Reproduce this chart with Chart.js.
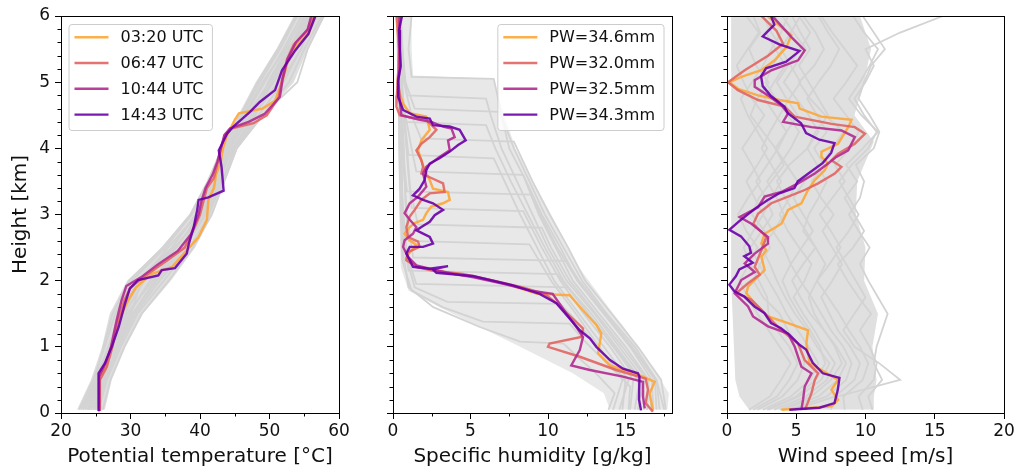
<!DOCTYPE html>
<html>
<head>
<meta charset="utf-8">
<script src="https://cdn.jsdelivr.net/npm/chart.js@4.4.1/dist/chart.umd.min.js"></script>
<style>
html, body { margin: 0; padding: 0; background: #fff; width: 1018px; height: 472px; overflow: hidden; }
canvas { position: absolute; top: 0; }
</style>
</head>
<body>
<canvas id="c1" width="359" height="472" style="left:0px"></canvas>
<canvas id="c2" width="360" height="472" style="left:332px"></canvas>
<canvas id="c3" width="351" height="472" style="left:666px"></canvas>
<script>
Chart.defaults.font.family = "'DejaVu Sans', sans-serif";
Chart.defaults.color = '#111';

const profileColors = ['#fca636', '#e16462', '#b12a90', '#6a00a8'];
const launchTimes = ['03:20 UTC', '06:47 UTC', '10:44 UTC', '14:43 UTC'];
const pwLabels = ['PW=34.6mm', 'PW=32.0mm', 'PW=32.5mm', 'PW=34.3mm'];

// ---------- potential temperature [°C] ----------
const thetaGridH = [0.05, 0.5, 1.0, 1.5, 2.0, 2.5, 3.0, 3.5, 4.0, 4.5, 5.0, 5.5, 6.0];
const thetaBandLeft = [22.3, 24.3, 25.9, 27.0, 29.5, 34.5, 38.5, 41.0, 43.0, 45.5, 48.0, 51.0, 53.5];
const thetaBandRight = [26.3, 27.3, 29.3, 31.8, 35.8, 39.3, 41.8, 43.6, 45.4, 49.3, 53.5, 55.5, 58.0];
const thetaGray = [
  [22.6, 24.6, 26.3, 27.8, 30.2, 35.0, 38.8, 41.3, 43.4, 46.0, 48.6, 51.5, 54.0],
  [23.2, 25.0, 26.8, 28.5, 31.0, 36.0, 39.4, 41.8, 43.6, 46.5, 49.3, 52.0, 54.6],
  [23.8, 25.4, 27.2, 29.2, 32.0, 36.6, 39.9, 42.0, 44.0, 46.8, 50.0, 52.8, 55.2],
  [24.3, 25.8, 27.6, 29.8, 32.8, 37.2, 40.3, 42.4, 44.3, 47.3, 50.6, 53.3, 55.8],
  [24.8, 26.2, 28.1, 30.4, 33.8, 37.9, 40.8, 42.8, 44.6, 47.8, 51.2, 53.8, 56.3],
  [25.4, 26.6, 28.6, 31.0, 34.8, 38.5, 41.3, 43.2, 45.0, 48.4, 52.0, 54.5, 56.9],
  [26.0, 27.1, 29.1, 31.6, 35.5, 39.0, 41.7, 43.5, 45.3, 49.0, 52.8, 55.0, 57.5],
  [22.9, 24.9, 26.1, 27.4, 29.8, 34.6, 38.6, 41.1, 43.2, 45.8, 48.3, 51.2, 53.8],
  [24.0, 25.5, 27.9, 30.1, 31.5, 36.3, 40.6, 42.6, 43.8, 47.0, 51.5, 54.6, 55.6],
  [25.0, 26.4, 28.3, 30.7, 34.2, 38.2, 40.0, 42.2, 44.8, 48.0, 49.8, 52.5, 56.6],
  [23.5, 25.2, 27.0, 28.9, 31.5, 35.4, 39.7, 42.5, 44.4, 46.3, 49.0, 52.3, 55.0],
  [24.6, 26.0, 27.4, 29.5, 33.2, 37.6, 40.5, 43.0, 44.1, 47.5, 50.3, 53.0, 55.5],
  [24.0, 25.6, 27.5, 30.3, 33.5, 37.5, 40.9, 43.3, 44.9, 49.0, 54.0, 55.5, 57.8]
];
const thetaH0320 = [0.03, 0.55, 0.7, 1.0, 1.2, 1.4, 1.71, 1.9, 2.1, 2.21, 2.4, 2.66, 2.92, 3.22, 3.4, 3.6, 3.8, 4.0, 4.2, 4.43, 4.53, 4.6, 4.72, 5.0, 5.3, 5.54, 5.72, 6.0];
const theta0320 = [25.6, 25.5, 26.4, 27.2, 27.8, 28.3, 29.7, 30.8, 33.0, 36.0, 37.6, 39.8, 41.0, 41.2, 42.0, 42.3, 43.0, 43.3, 43.9, 45.0, 45.6, 49.0, 50.8, 51.8, 52.6, 53.7, 55.6, 56.5];
const thetaH0647 = [0.03, 0.5, 0.7, 1.0, 1.4, 1.7, 1.9, 2.1, 2.3, 2.5, 2.8, 3.0, 3.2, 3.4, 3.55, 3.8, 4.0, 4.2, 4.3, 4.38, 4.5, 4.76, 5.04, 5.34, 5.57, 5.77, 6.0];
const theta0647 = [25.6, 25.6, 26.6, 27.4, 28.2, 29.1, 30.0, 32.5, 35.2, 37.8, 39.2, 40.0, 40.5, 41.0, 42.0, 42.6, 43.0, 43.6, 44.5, 47.7, 49.6, 51.3, 51.8, 52.5, 53.5, 55.4, 56.3];
const thetaH1044 = [0.03, 0.55, 0.75, 1.0, 1.4, 1.7, 1.92, 2.05, 2.25, 2.45, 2.7, 3.0, 3.2, 3.4, 3.6, 3.8, 4.0, 4.2, 4.3, 4.4, 4.52, 4.78, 5.05, 5.35, 5.6, 5.8, 6.0];
const theta1044 = [25.5, 25.5, 26.4, 27.2, 28.0, 28.7, 29.4, 31.5, 34.0, 36.8, 38.7, 39.8, 40.2, 40.8, 41.8, 42.5, 43.0, 43.5, 44.3, 47.0, 49.3, 51.5, 51.9, 52.6, 53.8, 55.5, 56.0];
const thetaH1443 = [0.03, 0.6, 0.75, 1.0, 1.3, 1.65, 1.88, 2.01, 2.08, 2.16, 2.19, 2.41, 2.56, 2.81, 3.07, 3.22, 3.26, 3.36, 3.72, 3.97, 4.22, 4.33, 4.55, 4.7, 4.88, 5.18, 5.48, 5.73, 6.0];
const theta1443 = [25.4, 25.4, 26.3, 27.3, 28.3, 29.2, 29.9, 31.1, 34.0, 34.5, 36.4, 38.1, 38.4, 39.1, 39.6, 39.8, 41.2, 43.4, 43.1, 42.7, 43.9, 44.8, 47.2, 48.6, 50.8, 51.8, 53.7, 55.6, 56.6];

// ---------- specific humidity [g/kg] ----------
const qBandH = [0.05, 0.3, 0.6, 1.0, 1.3, 1.6, 1.85, 2.2, 3.0, 4.0, 4.84, 5.05, 5.1, 5.5, 6.0];
const qBandLeft = [14.0, 13.6, 11.6, 8.2, 5.6, 3.0, 1.0, 0.5, 0.4, 0.35, 0.3, 0.3, 0.3, 0.25, 0.2];
const qBandRight = [17.7, 17.8, 17.0, 15.8, 14.9, 13.9, 13.1, 12.0, 10.2, 7.9, 6.7, 6.5, 1.3, 1.2, 1.2];
const qGray = [
  [[0.05, 0.5, 1.0, 1.5, 2.0, 2.5, 3.0, 3.5, 4.0, 4.5, 4.84, 5.05, 5.08, 5.5, 6.0], [16.8, 16.7, 15.3, 13.6, 11.9, 10.8, 9.6, 8.6, 7.5, 7.0, 6.7, 6.5, 1.2, 1.0, 1.2]],
  [[0.05, 0.5, 1.0, 1.5, 2.0, 2.5, 3.0, 3.5, 4.0, 4.5, 4.75, 4.8, 5.2, 5.6, 6.0], [15.8, 16.2, 14.6, 13.0, 11.2, 10.0, 9.0, 8.0, 7.0, 6.3, 6.0, 0.9, 0.7, 0.6, 0.5]],
  [[0.05, 0.5, 1.0, 1.5, 2.0, 2.5, 3.0, 3.5, 4.0, 4.55, 4.6, 5.0, 5.5, 6.0], [17.2, 17.0, 15.6, 13.8, 12.2, 11.0, 9.8, 8.8, 7.8, 6.9, 1.4, 0.8, 0.6, 0.5]],
  [[0.05, 0.5, 1.0, 1.5, 2.0, 2.5, 3.0, 3.5, 4.0, 4.35, 4.4, 4.8, 5.3, 6.0], [16.0, 15.8, 14.2, 12.6, 11.0, 9.8, 8.7, 7.6, 6.6, 6.0, 0.7, 0.5, 0.4, 0.3]],
  [[0.05, 0.5, 1.0, 1.5, 2.0, 2.5, 3.0, 3.5, 4.1, 4.15, 4.5, 5.0, 5.5, 6.0], [17.6, 17.3, 15.8, 14.1, 12.4, 11.3, 10.1, 9.0, 7.8, 1.8, 1.2, 0.7, 0.4, 0.3]],
  [[0.05, 0.5, 1.0, 1.5, 2.0, 2.5, 3.0, 3.5, 3.85, 3.9, 4.3, 4.9, 5.5, 6.0], [14.6, 15.2, 13.6, 12.0, 10.4, 9.3, 8.2, 7.2, 6.5, 1.0, 0.8, 0.6, 0.5, 0.4]],
  [[0.05, 0.5, 1.0, 1.5, 2.0, 2.5, 3.0, 3.6, 3.65, 4.0, 4.5, 5.0, 6.0], [16.4, 16.5, 15.0, 13.3, 11.6, 10.5, 9.4, 8.4, 1.5, 1.2, 0.8, 0.5, 0.4]],
  [[0.05, 0.5, 1.0, 1.5, 2.0, 2.5, 3.0, 3.3, 3.35, 3.8, 4.4, 5.0, 6.0], [17.0, 16.9, 15.4, 13.6, 11.9, 10.6, 9.5, 8.9, 0.9, 0.7, 0.6, 0.4, 0.3]],
  [[0.05, 0.5, 1.0, 1.5, 2.0, 2.5, 3.05, 3.1, 3.6, 4.2, 5.0, 6.0], [15.3, 15.5, 14.0, 12.3, 10.8, 9.6, 8.4, 1.2, 1.0, 0.8, 0.5, 0.4]],
  [[0.05, 0.5, 1.0, 1.5, 2.0, 2.5, 2.8, 2.85, 3.4, 4.0, 4.6, 5.3, 6.0], [16.7, 16.4, 14.8, 13.1, 11.4, 10.2, 9.6, 1.6, 1.1, 0.9, 0.7, 0.5, 0.4]],
  [[0.05, 0.5, 1.0, 1.5, 2.0, 2.55, 2.6, 3.2, 4.0, 5.0, 6.0], [14.2, 14.8, 13.3, 11.8, 10.2, 8.8, 1.0, 0.8, 0.7, 0.5, 0.4]],
  [[0.05, 0.5, 1.0, 1.5, 2.0, 2.3, 2.35, 3.0, 4.0, 5.0, 6.0], [17.5, 17.0, 15.4, 13.7, 12.0, 11.2, 1.3, 0.9, 0.6, 0.5, 0.3]],
  [[0.05, 0.5, 1.0, 1.5, 2.1, 2.15, 2.6, 3.5, 4.5, 5.5, 6.0], [15.6, 15.9, 14.3, 12.6, 10.6, 1.0, 0.7, 0.5, 0.4, 0.3, 0.3]],
  [[0.05, 0.5, 1.0, 1.5, 1.9, 1.95, 2.4, 3.2, 4.2, 5.2, 6.0], [16.2, 16.0, 14.4, 12.8, 11.3, 1.5, 0.9, 0.6, 0.5, 0.4, 0.3]],
  [[0.05, 0.5, 1.0, 1.45, 1.65, 1.68, 1.9, 2.4, 3.3, 4.4, 5.4, 6.0], [14.8, 15.0, 13.2, 11.6, 10.8, 3.5, 1.4, 0.8, 0.6, 0.5, 0.4, 0.3]],
  [[0.05, 0.4, 0.8, 1.1, 1.35, 1.38, 1.6, 1.85, 2.3, 3.0, 4.0, 5.0, 6.0], [15.2, 15.3, 13.6, 12.3, 11.4, 5.8, 3.2, 1.2, 0.6, 0.5, 0.4, 0.4, 0.3]],
  [[0.05, 0.3, 0.6, 0.85, 1.05, 1.08, 1.3, 1.6, 1.9, 2.5, 3.5, 4.5, 6.0], [13.9, 14.3, 13.1, 11.9, 11.0, 8.2, 5.6, 2.6, 1.0, 0.6, 0.5, 0.4, 0.4]]
];
const qH0320 = [6.0, 5.8, 5.5, 5.2, 5.0, 4.83, 4.68, 4.53, 4.48, 4.28, 4.12, 3.97, 3.82, 3.67, 3.52, 3.39, 3.34, 3.22, 3.17, 3.12, 3.02, 2.92, 2.87, 2.81, 2.71, 2.61, 2.54, 2.43, 2.34, 2.21, 2.16, 2.1, 2.05, 1.95, 1.8, 1.78, 1.55, 1.33, 1.2, 0.9, 0.72, 0.55, 0.47, 0.3, 0.04];
const q0320 = [0.2, 0.3, 0.35, 0.35, 0.3, 0.43, 0.65, 1.08, 2.15, 2.37, 1.83, 1.62, 1.83, 2.04, 2.37, 2.58, 3.55, 3.66, 3.23, 2.47, 2.15, 1.94, 1.4, 1.08, 0.75, 1.08, 1.51, 1.08, 0.86, 1.51, 2.58, 4.0, 5.5, 7.3, 9.3, 11.4, 12.26, 13.12, 13.44, 13.23, 14.0, 16.13, 16.88, 16.56, 16.77];
const qH0647 = [6.0, 5.8, 5.5, 5.2, 5.0, 4.8, 4.63, 4.5, 4.45, 4.43, 4.28, 4.17, 4.07, 3.97, 3.82, 3.72, 3.62, 3.54, 3.47, 3.34, 3.32, 3.22, 3.07, 2.97, 2.81, 2.66, 2.59, 2.51, 2.43, 2.31, 2.21, 2.15, 2.1, 2.0, 1.9, 1.8, 1.66, 1.28, 1.15, 1.05, 1.0, 0.85, 0.65, 0.52, 0.35, 0.15, 0.02];
const q0647 = [0.26, 0.3, 0.4, 0.35, 0.3, 0.25, 0.22, 0.43, 1.5, 2.15, 2.8, 2.37, 1.83, 1.51, 1.83, 1.94, 1.83, 2.58, 3.23, 3.33, 2.37, 1.83, 1.4, 1.08, 0.86, 0.97, 1.62, 1.72, 0.97, 0.86, 1.51, 2.58, 4.5, 6.5, 8.3, 9.8, 10.54, 12.26, 12.15, 10.1, 10.0, 12.05, 14.4, 16.3, 16.45, 16.3, 16.77];
const qH1044 = [6.0, 5.8, 5.5, 5.2, 5.0, 4.73, 4.5, 4.43, 4.4, 4.33, 4.3, 4.17, 4.12, 3.97, 3.87, 3.72, 3.62, 3.42, 3.27, 3.17, 3.02, 2.92, 2.81, 2.71, 2.61, 2.51, 2.36, 2.23, 2.18, 2.12, 2.05, 1.95, 1.85, 1.8, 1.5, 1.3, 1.15, 0.95, 0.72, 0.65, 0.55, 0.47, 0.25, 0.07];
const q1044 = [0.43, 0.4, 0.45, 0.4, 0.35, 0.43, 0.54, 1.72, 2.47, 3.23, 3.77, 3.98, 3.55, 3.66, 3.0, 2.15, 1.94, 2.15, 1.62, 1.08, 0.75, 1.08, 1.51, 1.29, 0.75, 0.65, 0.97, 1.51, 2.37, 3.5, 5.2, 7.2, 8.9, 10.3, 11.2, 11.83, 12.26, 12.05, 11.5, 12.7, 14.84, 16.13, 16.13, 16.24];
const qH1443 = [6.0, 5.79, 5.5, 5.24, 5.03, 4.78, 4.58, 4.48, 4.45, 4.35, 4.33, 4.28, 4.12, 4.05, 3.95, 3.85, 3.77, 3.67, 3.52, 3.39, 3.29, 3.22, 3.17, 3.07, 2.99, 2.89, 2.81, 2.76, 2.71, 2.66, 2.56, 2.51, 2.51, 2.41, 2.31, 2.21, 2.18, 2.22, 2.17, 2.12, 2.07, 1.93, 1.8, 1.66, 1.4, 1.25, 1.13, 1.0, 0.8, 0.67, 0.6, 0.55, 0.2, 0.04];
const q1443 = [0.58, 0.39, 0.45, 0.5, 0.33, 0.33, 0.65, 1.51, 2.37, 2.58, 3.66, 4.3, 4.69, 4.2, 3.66, 3.0, 2.37, 2.15, 2.04, 1.72, 1.29, 1.94, 2.58, 3.23, 2.69, 2.37, 1.83, 1.51, 1.94, 2.37, 2.58, 1.94, 1.08, 0.86, 1.08, 1.29, 2.37, 3.55, 2.58, 2.8, 5.16, 7.74, 9.46, 10.54, 11.5, 12.05, 12.7, 13.12, 14.0, 14.84, 15.8, 15.9, 15.87, 16.0];

// ---------- wind speed [m/s] ----------
const windGridH = [0.05, 0.25, 0.5, 0.75, 1.0, 1.25, 1.5, 1.75, 2.0, 2.25, 2.5, 2.75, 3.0, 3.25, 3.5, 3.75, 4.0, 4.25, 4.5, 4.75, 5.0, 5.25, 5.5, 5.75, 6.0];
const windBandH = [0.05, 0.25, 0.5, 1.0, 1.5, 2.0, 2.5, 3.0, 3.5, 4.1, 4.5, 5.0, 5.5, 6.0];
const windBandLeft = [1.6, 0.9, 0.6, 0.5, 0.4, 0.3, 0.3, 0.3, 0.3, 0.3, 0.3, 0.3, 0.3, 0.3];
const windBandRight = [10.6, 10.6, 10.8, 10.5, 10.9, 9.9, 10.0, 9.3, 9.4, 10.6, 9.2, 9.9, 10.4, 9.6];
const windGray = [
  [3.0, 5.2, 6.8, 7.4, 6.5, 5.8, 4.9, 4.2, 3.6, 3.1, 2.5, 3.4, 4.1, 3.6, 2.9, 3.8, 4.6, 5.2, 4.4, 3.5, 2.8, 3.3, 4.0, 3.2, 2.6],
  [2.2, 4.0, 5.1, 5.6, 5.2, 4.4, 3.8, 2.6, 1.9, 2.4, 3.1, 2.7, 1.8, 2.3, 3.2, 4.1, 3.5, 2.6, 1.7, 2.2, 3.0, 2.1, 1.6, 2.4, 1.9],
  [4.5, 7.2, 8.6, 9.0, 8.4, 7.5, 6.8, 6.1, 5.3, 4.6, 5.4, 6.2, 5.5, 4.8, 5.6, 6.8, 7.6, 8.4, 7.1, 6.0, 5.2, 6.3, 7.0, 6.4, 5.5],
  [8.5, 8.4, 9.8, 10.2, 9.6, 8.8, 8.1, 7.3, 6.5, 7.4, 8.2, 7.5, 6.7, 7.6, 8.5, 7.8, 8.9, 9.5, 8.6, 7.7, 8.6, 9.4, 8.5, 7.6, 6.8],
  [1.6, 3.1, 3.9, 4.6, 3.8, 3.0, 2.2, 1.5, 0.9, 1.6, 2.2, 1.4, 0.8, 1.5, 2.4, 1.8, 1.1, 1.9, 2.7, 1.8, 1.2, 0.7, 1.5, 2.3, 1.4],
  [3.8, 6.1, 7.5, 8.3, 7.8, 7.0, 6.0, 5.3, 4.7, 5.5, 6.4, 5.7, 4.9, 4.2, 3.6, 4.5, 5.8, 6.6, 5.9, 5.0, 4.1, 4.9, 5.7, 4.8, 4.0],
  [9.8, 9.5, 10.6, 10.8, 10.3, 9.6, 10.4, 9.5, 8.7, 8.0, 9.1, 9.9, 9.2, 8.5, 9.4, 8.6, 9.8, 10.9, 9.7, 8.8, 9.6, 10.3, 10.9, 9.9, 9.1],
  [2.6, 4.6, 6.0, 6.6, 5.9, 5.1, 4.3, 3.7, 3.0, 2.3, 1.7, 2.5, 3.3, 2.8, 2.1, 2.9, 3.7, 4.3, 3.5, 2.7, 3.4, 4.2, 3.5, 2.8, 3.6],
  [4.9, 7.8, 9.2, 9.6, 8.9, 8.0, 7.4, 6.8, 7.6, 8.3, 7.6, 6.9, 7.7, 6.8, 6.1, 7.0, 6.3, 7.2, 6.5, 5.8, 6.6, 7.5, 8.1, 7.3, 6.6],
  [3.4, 5.7, 7.2, 7.8, 7.0, 6.3, 5.5, 4.8, 5.6, 6.1, 5.2, 4.4, 3.8, 4.5, 5.1, 4.3, 3.5, 4.3, 5.1, 4.3, 3.6, 4.4, 5.3, 6.0, 5.2],
  [1.9, 3.6, 4.5, 5.1, 4.5, 3.6, 3.0, 2.9, 2.3, 1.7, 1.2, 1.9, 2.6, 2.0, 1.4, 2.2, 2.9, 2.2, 1.5, 1.0, 1.8, 2.6, 3.2, 3.9, 4.4],
  [7.5, 8.0, 12.5, 11.0, 9.2, 8.4, 9.2, 10.0, 9.3, 8.6, 7.9, 8.8, 9.5, 8.8, 8.1, 9.0, 10.2, 10.8, 9.9, 9.2, 10.0, 10.6, 10.0, 12.5, 15.6],
  [4.0, 6.6, 8.0, 8.6, 7.9, 7.0, 6.3, 5.9, 6.5, 7.1, 6.4, 5.5, 5.9, 6.6, 7.2, 6.5, 5.8, 6.4, 7.3, 6.6, 5.9, 5.2, 6.0, 5.3, 4.7],
  [2.9, 5.0, 6.4, 7.1, 6.7, 6.0, 5.2, 4.5, 4.0, 4.6, 4.1, 3.3, 2.6, 3.2, 3.9, 3.2, 2.5, 3.1, 3.8, 4.5, 5.3, 4.6, 3.9, 4.6, 5.3],
  [10.5, 10.2, 11.2, 10.6, 10.8, 11.2, 11.6, 10.9, 10.2, 9.6, 10.3, 9.5, 8.8, 9.6, 9.9, 9.3, 10.6, 11.0, 10.3, 9.5, 9.9, 10.4, 11.4, 10.6, 9.8]
];
const windH0320 = [5.99, 5.71, 5.53, 5.33, 5.18, 5.08, 5.0, 4.9, 4.8, 4.73, 4.68, 4.6, 4.48, 4.43, 4.32, 4.07, 3.95, 3.87, 3.77, 3.67, 3.52, 3.37, 3.17, 3.07, 2.86, 2.71, 2.56, 2.46, 2.36, 2.16, 2.06, 1.91, 1.81, 1.66, 1.46, 1.36, 1.25, 1.05, 0.75, 0.65, 0.5, 0.35, 0.2, 0.1, 0.05];
const wind0320 = [2.96, 4.65, 4.29, 3.44, 2.48, 1.03, 0.19, 0.79, 2.24, 3.8, 5.13, 5.25, 6.82, 8.99, 8.75, 8.02, 6.82, 6.82, 7.3, 7.06, 6.34, 5.85, 5.37, 4.41, 3.93, 2.72, 2.48, 2.84, 2.48, 2.72, 2.24, 1.52, 1.4, 2.0, 2.96, 4.41, 5.85, 5.73, 5.97, 6.82, 8.02, 7.54, 8.02, 7.54, 3.93];
const windH0647 = [6.0, 5.78, 5.58, 5.4, 5.18, 5.0, 4.88, 4.73, 4.63, 4.48, 4.37, 4.32, 4.22, 4.07, 3.92, 3.82, 3.72, 3.62, 3.47, 3.37, 3.27, 3.17, 3.01, 2.86, 2.66, 2.46, 2.21, 2.09, 1.96, 1.81, 1.71, 1.56, 1.25, 1.05, 0.8, 0.6, 0.5, 0.3, 0.1, 0.05];
const wind0647 = [2.48, 3.56, 4.05, 2.96, 1.28, 0.07, 0.79, 2.24, 4.17, 4.89, 7.54, 9.23, 9.96, 9.23, 8.02, 7.54, 8.26, 7.78, 6.58, 5.61, 4.41, 3.2, 2.24, 1.9, 2.84, 2.48, 2.0, 2.36, 1.52, 0.67, 1.76, 2.48, 3.93, 5.13, 5.61, 6.58, 6.34, 6.1, 5.73, 5.61];
const windH1044 = [5.99, 5.68, 5.48, 5.33, 5.18, 5.03, 4.93, 4.8, 4.65, 4.53, 4.4, 4.32, 4.27, 4.17, 3.97, 3.87, 3.77, 3.62, 3.47, 3.34, 3.27, 3.11, 2.96, 2.86, 2.66, 2.56, 2.41, 2.26, 2.13, 2.01, 1.81, 1.61, 1.46, 1.31, 1.2, 1.0, 0.7, 0.6, 0.4, 0.2, 0.05];
const wind1044 = [3.32, 4.65, 5.61, 5.13, 3.2, 2.0, 2.0, 2.96, 3.92, 4.41, 4.05, 6.1, 8.26, 9.23, 8.75, 7.9, 7.3, 6.34, 5.13, 3.92, 2.72, 2.24, 0.91, 1.76, 2.96, 2.96, 2.0, 1.28, 2.0, 1.03, 0.55, 1.52, 1.88, 2.96, 4.41, 4.89, 5.37, 6.1, 5.61, 5.49, 5.37];
const windH1443 = [6.0, 5.87, 5.69, 5.57, 5.47, 5.31, 5.21, 5.09, 4.94, 4.79, 4.63, 4.53, 4.38, 4.23, 4.13, 4.08, 3.93, 3.78, 3.63, 3.5, 3.4, 3.32, 3.22, 3.1, 2.9, 2.77, 2.67, 2.52, 2.42, 2.37, 2.27, 2.17, 2.07, 1.94, 1.84, 1.76, 1.61, 1.51, 1.36, 1.28, 1.18, 1.03, 0.96, 0.76, 0.6, 0.53, 0.35, 0.15, 0.08, 0.05];
const wind1443 = [3.18, 3.42, 2.58, 3.78, 5.23, 4.27, 2.82, 2.46, 2.58, 3.18, 4.14, 4.39, 5.35, 5.71, 6.67, 7.76, 7.52, 6.92, 5.95, 5.11, 4.87, 3.78, 2.94, 2.1, 0.89, 0.17, 1.01, 1.61, 1.73, 1.25, 1.86, 0.89, 0.65, 0.17, 0.53, 1.25, 1.98, 2.7, 3.18, 3.9, 4.51, 5.23, 5.71, 6.19, 6.92, 8.12, 8.0, 7.76, 6.67, 4.5];

// ---------- helpers ----------
function pts(h, v) {
  return h.map((y, i) => ({x: v[i], y: y}));
}

function rgba(hex, a) {
  const n = parseInt(hex.slice(1), 16);
  return `rgba(${n >> 16},${(n >> 8) & 255},${n & 255},${a})`;
}

function buildDatasets(bandH, bandL, bandR, bandColor, grays, colored) {
  const ds = [];
  ds.push({data: pts(bandH, bandL), borderColor: 'rgba(0,0,0,0)', borderWidth: 1, fill: false, order: 40});
  ds.push({data: pts(bandH, bandR), borderColor: 'rgba(0,0,0,0)', borderWidth: 1, fill: 0, backgroundColor: bandColor, order: 39});
  grays.forEach(g => ds.push({data: pts(g[0], g[1]), borderColor: '#d3d3d3', borderWidth: 1.8, fill: false, order: 20}));
  colored.forEach((c, i) => ds.push({
    data: pts(c[0], c[1]),
    borderColor: rgba(profileColors[i], 0.9),
    borderWidth: 2.4,
    fill: false,
    order: 10 - i
  }));
  return ds;
}

const framePlugin = {
  id: 'frame',
  afterDatasetsDraw(chart, args, opts) {
    const {ctx, chartArea: a, scales} = chart;
    ctx.save();
    ctx.strokeStyle = '#000';
    ctx.lineWidth = 1;
    ctx.strokeRect(Math.round(a.left) + 0.5, Math.round(a.top) + 0.5,
                   Math.round(a.right) - Math.round(a.left), Math.round(a.bottom) - Math.round(a.top));
    // minor ticks
    ctx.beginPath();
    const ys = scales.y;
    for (let k = 1; k < 30; k++) {
      if (k % 5 === 0) continue;
      const y = Math.round(ys.getPixelForValue(k * 0.2)) + 0.5;
      ctx.moveTo(a.left - 3.5, y);
      ctx.lineTo(a.left, y);
    }
    if (opts.xMinor) {
      const xs = scales.x;
      for (let v = xs.min + opts.xMinor; v < xs.max; v += 2 * opts.xMinor) {
        const x = Math.round(xs.getPixelForValue(v)) + 0.5;
        ctx.moveTo(x, a.bottom);
        ctx.lineTo(x, a.bottom + 3.5);
      }
    }
    ctx.stroke();
    ctx.restore();
  }
};

const legendPlugin = {
  id: 'profileLegend',
  afterDatasetsDraw(chart, args, opts) {
    if (!opts.labels) return;
    const {ctx, chartArea: a} = chart;
    ctx.save();
    ctx.font = "16px 'DejaVu Sans', sans-serif";
    const tw = Math.max(...opts.labels.map(t => ctx.measureText(t).width));
    const w = 5.5 + 34 + 12 + tw + 9;
    const h = 106;
    const x0 = opts.side === 'right' ? a.right - 8 - w : a.left + 8;
    const y0 = a.top + 8.5;
    ctx.beginPath();
    ctx.roundRect(x0, y0, w, h, 3);
    ctx.fillStyle = 'rgba(255,255,255,0.8)';
    ctx.fill();
    ctx.strokeStyle = '#cccccc';
    ctx.lineWidth = 1;
    ctx.stroke();
    opts.labels.forEach((t, i) => {
      const y = y0 + 12.7 + i * 25.8;
      ctx.beginPath();
      ctx.strokeStyle = rgba(profileColors[i], 0.9);
      ctx.lineWidth = 2.4;
      ctx.moveTo(x0 + 5.5, y);
      ctx.lineTo(x0 + 39.5, y);
      ctx.stroke();
      ctx.fillStyle = '#111';
      ctx.textBaseline = 'middle';
      ctx.textAlign = 'left';
      ctx.fillText(t, x0 + 51.5, y + 1);
    });
    ctx.restore();
  }
};

function makeChart(id, cfg) {
  const xScale = {
    type: 'linear',
    position: 'bottom',
    min: cfg.xMin,
    max: cfg.xMax,
    ticks: {stepSize: cfg.xStep, includeBounds: false, padding: 2, font: {size: 17}, color: '#111'},
    grid: {drawOnChartArea: false, drawTicks: true, tickLength: 6, color: '#000'},
    border: {display: false},
    title: {display: true, text: cfg.xTitle, font: {size: 20}, color: '#111', padding: {top: 0, bottom: 3}},
    afterFit(s) { s.height = 59; s.paddingLeft = 0; s.paddingRight = 0; }
  };
  const yScale = {
    type: 'linear',
    position: 'left',
    min: 0,
    max: 6,
    ticks: {stepSize: 1, padding: 5, font: {size: 17}, color: '#111',
            callback: v => cfg.yLabels ? String(v) : ''},
    grid: {drawOnChartArea: false, drawTicks: true, tickLength: 6, color: '#000'},
    border: {display: false},
    title: {display: !!cfg.yLabels, text: 'Height [km]', font: {size: 20}, color: '#111', padding: {top: 9, bottom: 0}},
    afterFit(s) { s.width = 61; s.paddingTop = 0; s.paddingBottom = 0; }
  };
  return new Chart(document.getElementById(id), {
    type: 'line',
    data: {datasets: cfg.datasets},
    options: {
      indexAxis: 'y',
      responsive: false,
      animation: false,
      events: [],
      layout: {padding: {left: 0, top: 16, right: cfg.padRight, bottom: 0}},
      elements: {point: {radius: 0}, line: {tension: 0}},
      scales: {x: xScale, y: yScale},
      plugins: {
        legend: {display: false},
        tooltip: {enabled: false},
        frame: {xMinor: cfg.xMinor},
        profileLegend: cfg.legend
      }
    },
    plugins: [framePlugin, legendPlugin]
  });
}

makeChart('c1', {
  xMin: 20, xMax: 60, xStep: 10, xMinor: 5, padRight: 20, yLabels: true,
  xTitle: 'Potential temperature [°C]',
  legend: {labels: launchTimes, side: 'left'},
  datasets: buildDatasets(thetaGridH, thetaBandLeft, thetaBandRight, '#dedede',
    thetaGray.map(v => [thetaGridH, v]),
    [[thetaH0320, theta0320], [thetaH0647, theta0647], [thetaH1044, theta1044], [thetaH1443, theta1443]])
});

makeChart('c2', {
  xMin: 0, xMax: 18, xStep: 5, xMinor: 2.5, padRight: 20, yLabels: false,
  xTitle: 'Specific humidity [g/kg]',
  legend: {labels: pwLabels, side: 'right'},
  datasets: buildDatasets(qBandH, qBandLeft, qBandRight, '#e8e8e8', qGray,
    [[qH0320, q0320], [qH0647, q0647], [qH1044, q1044], [qH1443, q1443]])
});

makeChart('c3', {
  xMin: 0, xMax: 20, xStep: 5, xMinor: 0, padRight: 13, yLabels: false,
  xTitle: 'Wind speed [m/s]',
  legend: {},
  datasets: buildDatasets(windBandH, windBandLeft, windBandRight, '#e0e0e0',
    windGray.map(v => [windGridH, v]),
    [[windH0320, wind0320], [windH0647, wind0647], [windH1044, wind1044], [windH1443, wind1443]])
});
</script>
</body>
</html>
